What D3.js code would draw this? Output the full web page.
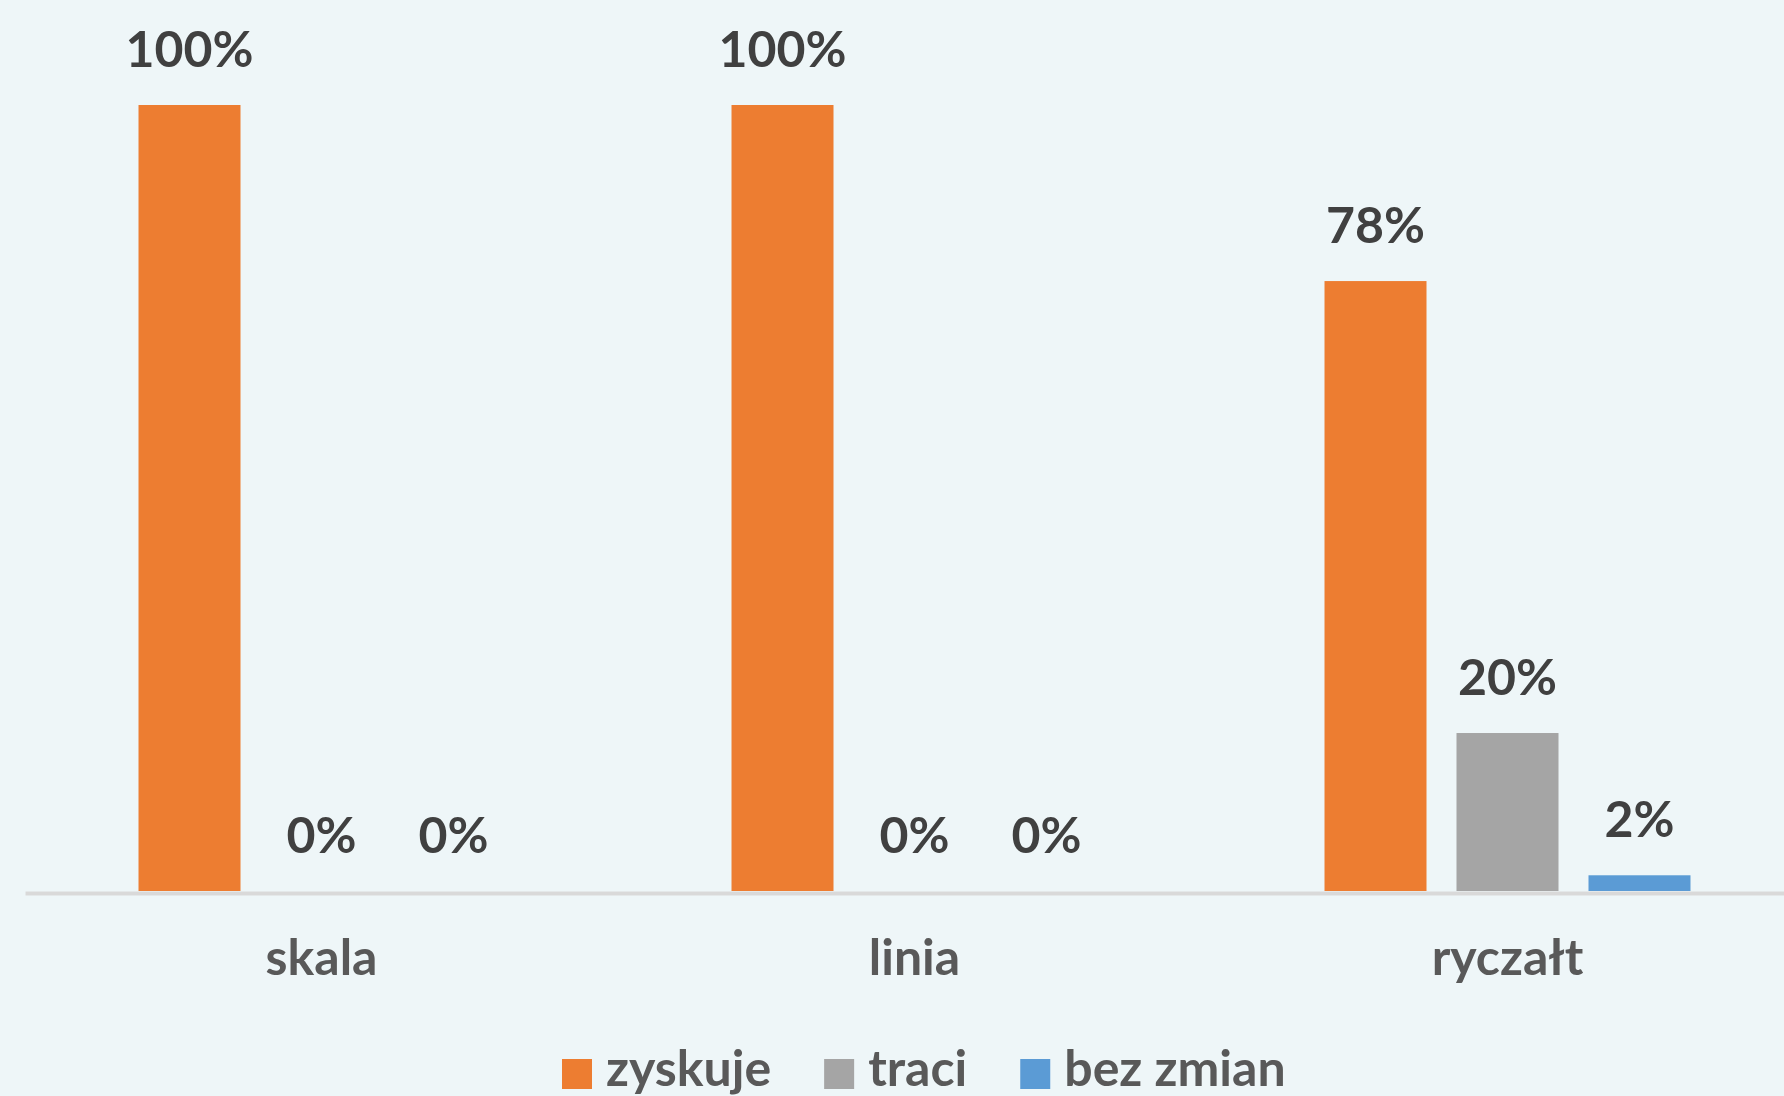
<!DOCTYPE html>
<html>
<head>
<meta charset="utf-8">
<script src="https://cdn.jsdelivr.net/npm/d3@7"></script>
<style>
  html, body { margin: 0; padding: 0; background: #eef6f8; }
  svg { display: block; font-family: Lato, 'Open Sans', sans-serif; }
</style>
</head>
<body>
<svg id="chart"></svg>
<script>
const categories = ['skala', 'linia', 'ryczałt'];
const seriesNames = ['zyskuje', 'traci', 'bez zmian'];
const zyskuje = [1.0, 1.0, 0.776];
const traci = [0.0, 0.0, 0.201];
const bezZmian = [0.0, 0.0, 0.02];
const colors = ['#ed7d31', '#a5a5a5', '#5b9bd5'];

const width = 1784;
const height = 1096;
const svg = d3.select('#chart').attr('width', width).attr('height', height);

svg.append('rect').attr('width', width).attr('height', height).attr('fill', '#eef6f8');

const values = [zyskuje, traci, bezZmian];
const data = categories.map((c, i) => ({
  category: c,
  items: seriesNames.map((s, j) => ({ series: s, value: values[j][i], color: colors[j] })),
}));

// X
const x0 = d3.scaleBand().domain(categories).range([25, 25 + 3 * 593]);
const x1 = d3
  .scaleBand()
  .domain(seriesNames)
  .range([0, x0.bandwidth()])
  .paddingInner(0.2273)
  .paddingOuter(0.86);

// Y
const y = d3.scaleLinear().domain([0, 1]).range([891, 105]);

const groups = svg
  .append('g')
  .selectAll('g')
  .data(data)
  .join('g')
  .attr('transform', (d) => `translate(${x0(d.category)},0)`);

groups
  .selectAll('rect')
  .data((d) => d.items)
  .join('rect')
  .attr('x', (d) => x1(d.series))
  .attr('width', x1.bandwidth())
  .attr('y', (d) => y(d.value))
  .attr('height', (d) => y(0) - y(d.value))
  .attr('fill', (d) => d.color);

groups
  .selectAll('text')
  .data((d) => d.items)
  .join('text')
  .attr('x', (d) => x1(d.series) + x1.bandwidth() / 2)
  .attr('y', (d) => y(d.value) - 38)
  .attr('text-anchor', 'middle')
  .attr('font-size', 50)
  .attr('font-weight', 'bold')
  .attr('fill', '#404040')
  .text((d) => d3.format('.0%')(d.value));

// axis line
const xAxis = svg
  .append('g')
  .attr('transform', `translate(0,${y(0) + 2})`)
  .call(d3.axisBottom(x0).tickSize(0).tickPadding(50).tickSizeOuter(0));
xAxis.select('.domain').attr('stroke', '#d9d9d9').attr('stroke-width', 4);
xAxis
  .selectAll('text')
  .attr('font-size', 50)
  .attr('font-weight', 'bold')
  .attr('font-family', 'Lato, sans-serif')
  .attr('fill', '#595959')
  .attr('dy', null)
  .attr('y', 82);

// Legend
const legend = svg.append('g').attr('transform', 'translate(0,1059)');
const items = legend
  .selectAll('g')
  .data(seriesNames)
  .join('g');
items
  .append('rect')
  .attr('width', 30)
  .attr('height', 30)
  .attr('fill', (d, i) => colors[i]);
items
  .append('text')
  .attr('x', 44)
  .attr('y', 27)
  .attr('font-size', 50)
  .attr('font-weight', 'bold')
  .attr('fill', '#595959')
  .text((d) => d);
let lx = 562;
const offsets = [];
items.each(function () {
  offsets.push(lx);
  lx += 44 + d3.select(this).select('text').node().getComputedTextLength() + 53;
});
items.attr('transform', (d, i) => `translate(${offsets[i]},0)`);
</script>
</body>
</html>
